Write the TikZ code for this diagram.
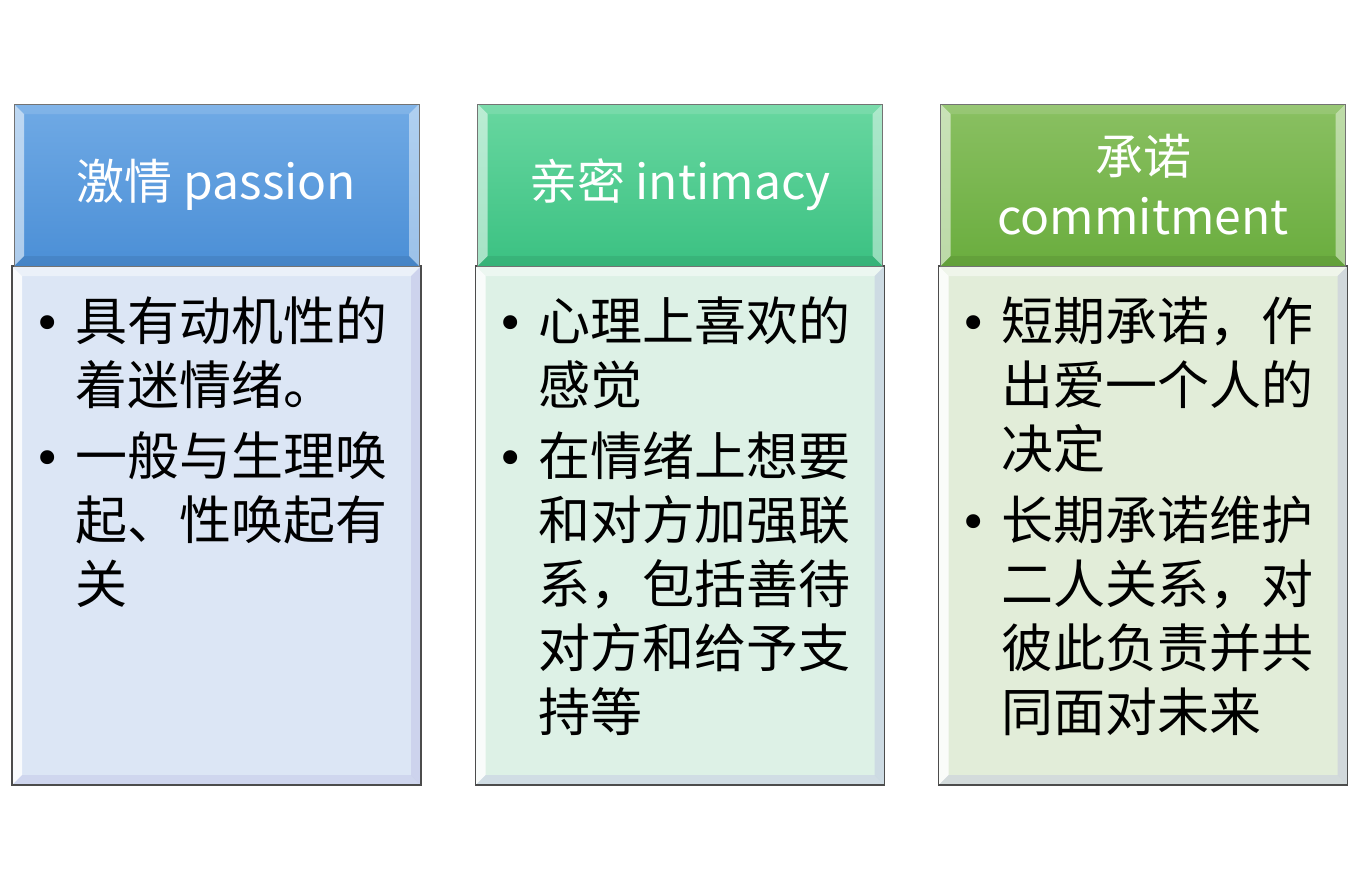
\documentclass[tikz,border=0pt]{standalone}
\usepackage{fontspec}
\setmainfont{Noto Sans CJK SC}
\newfontfamily\bulletfont{DejaVu Sans}
\usetikzlibrary{calc}

% header colours
\definecolor{blueTop}{HTML}{70AAE5}
\definecolor{blueBot}{HTML}{4B8FD6}
\definecolor{tealTop}{HTML}{68D7A0}
\definecolor{tealBot}{HTML}{3BC182}
\definecolor{greenTop}{HTML}{8AC062}
\definecolor{greenBot}{HTML}{6AAD3E}
% body colours
\definecolor{blueBody}{HTML}{DCE6F5}
\definecolor{tealBody}{HTML}{DDF1E6}
\definecolor{greenBody}{HTML}{E2EDD9}

% bullet mark: a round dot set in a fixed-width slot before each item
\newcommand\bul{\makebox[30pt][l]{\hspace*{-1.5pt}{\bulletfont\fontsize{36pt}{36pt}\selectfont •}}}

\begin{document}
\begin{tikzpicture}[x=0.75pt,y=-0.75pt,
  bevel/.style n args={5}{path picture={
    \coordinate (pNW) at (path picture bounding box.north west);
    \coordinate (pSE) at (path picture bounding box.south east);
    \coordinate (pSW) at (pNW |- pSE);
    \coordinate (pNE) at (pSE |- pNW);
    \fill[#2] (pNW) -- (pSW) -- ($(pSW)+(#1,#1)$) -- ($(pNW)+(#1,-#1)$) -- cycle;
    \fill[#3] (pNW) -- (pNE) -- ($(pNE)+(-#1,-#1)$) -- ($(pNW)+(#1,-#1)$) -- cycle;
    \fill[#4] (pNE) -- (pSE) -- ($(pSE)+(-#1,#1)$) -- ($(pNE)+(-#1,-#1)$) -- cycle;
    \fill[#5] (pSW) -- (pSE) -- ($(pSE)+(-#1,#1)$) -- ($(pSW)+(#1,#1)$) -- cycle;
  }},
  hdr/.style={rectangle, inner sep=0pt, draw=black!55, line width=0.6pt,
    minimum width=303.75pt, minimum height=121.5pt,
    text=white, font=\fontsize{36pt}{45pt}\selectfont, align=center,
    bevel={7.5pt}{white,opacity=.55}{white,opacity=.12}{white,opacity=.45}{black,opacity=.07}},
  bodybox/.style={rectangle, inner sep=0pt, draw=black!70, line width=0.8pt,
    minimum width=306.75pt, minimum height=389.25pt,
    bevel={7.5pt}{white,opacity=.85}{white,opacity=.45}{black!40!blue!30,opacity=.35}{black!40!blue!30,opacity=.3}},
  bodytext/.style={inner sep=0pt, anchor=base west, text=black,
    font=\fontsize{39pt}{48pt}\selectfont}
]
\useasboundingbox (0,0) rectangle (1350,889);

% body panels
\node[bodybox, fill=blueBody]  (b1) at (216.5,525.5) {};
\node[bodybox, fill=tealBody]  (b2) at (680,525.5) {};
\node[bodybox, fill=greenBody] (b3) at (1143,525.5) {};

% header panels
\node[hdr, top color=blueTop, bottom color=blueBot]   (h1) at (216.5,185) {激情 passion};
\node[hdr, top color=tealTop, bottom color=tealBot]   (h2) at (680,185) {亲密 intimacy};
\node[hdr, top color=greenTop, bottom color=greenBot] (h3) at (1143,185) {承诺\\commitment};

% bullet lists
\node[bodytext] (t1) at (35,340) {\begin{tabular}[t]{@{}l@{}l@{}}
\bul & 具有动机性的\\
     & 着迷情绪。\\[5.25pt]
\bul & 一般与生理唤\\
     & 起、性唤起有\\
     & 关
\end{tabular}};

\node[bodytext] (t2) at (498,340) {\begin{tabular}[t]{@{}l@{}l@{}}
\bul & 心理上喜欢的\\
     & 感觉\\[5.25pt]
\bul & 在情绪上想要\\
     & 和对方加强联\\
     & 系，包括善待\\
     & 对方和给予支\\
     & 持等
\end{tabular}};

\node[bodytext] (t3) at (961,340) {\begin{tabular}[t]{@{}l@{}l@{}}
\bul & 短期承诺，作\\
     & 出爱一个人的\\
     & 决定\\[5.25pt]
\bul & 长期承诺维护\\
     & 二人关系，对\\
     & 彼此负责并共\\
     & 同面对未来
\end{tabular}};
\end{tikzpicture}
\end{document}
